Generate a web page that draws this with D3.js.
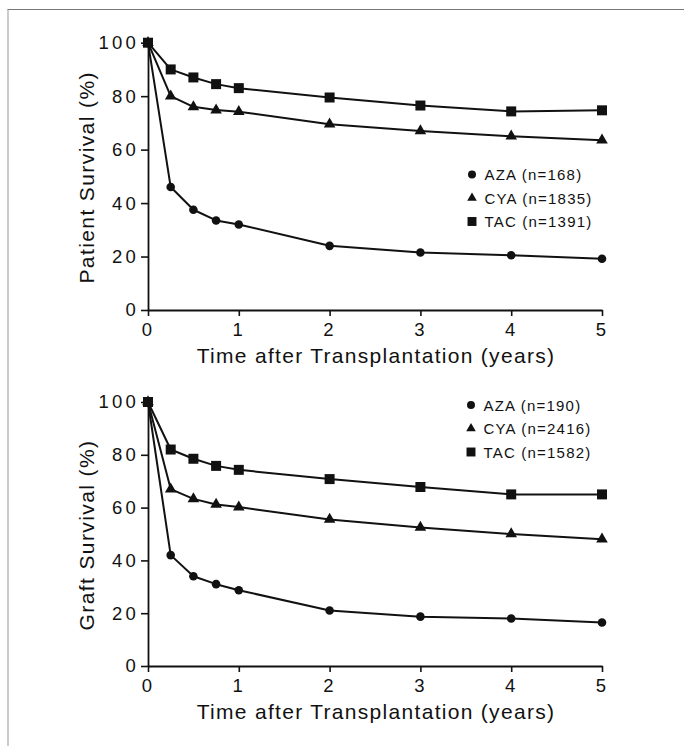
<!DOCTYPE html>
<html>
<head>
<meta charset="utf-8">
<script src="https://cdn.jsdelivr.net/npm/d3@7"></script>
<style>
  html, body { margin: 0; padding: 0; background: #fff; }
  svg { display: block; }
  text { font-family: "Liberation Sans", Arial, Helvetica, sans-serif; fill: #111; }
</style>
</head>
<body>
<svg id="chart" width="684" height="746"></svg>
<script>
// ---- Data ----
const times = [0, 0.25, 0.5, 0.75, 1, 2, 3, 4, 5];
const xTicks = [0, 1, 2, 3, 4, 5];
const yTicks = [0, 20, 40, 60, 80, 100];

const patientAZA = [100, 46, 37.5, 33.5, 32, 24, 21.5, 20.5, 19.2];
const patientCYA = [100, 80, 76, 74.8, 74.2, 69.5, 67, 65, 63.5];
const patientTAC = [100, 90, 87, 84.5, 83, 79.5, 76.5, 74.3, 74.7];

const graftAZA = [100, 42, 34, 31, 28.7, 21, 18.7, 18, 16.5];
const graftCYA = [100, 67, 63.3, 61.2, 60.2, 55.5, 52.5, 50, 48];
const graftTAC = [100, 82, 78.5, 75.8, 74.3, 70.8, 67.8, 65, 65];

const seriesNames = ["AZA", "CYA", "TAC"];
const patientLegend = ["AZA (n=168)", "CYA (n=1835)", "TAC (n=1391)"];
const graftLegend = ["AZA (n=190)", "CYA (n=2416)", "TAC (n=1582)"];
const xTitle = "Time after Transplantation (years)";

// ---- Drawing ----
const svg = d3.select("#chart");

// partial frame (top and left)
svg.append("line").attr("x1", 7.5).attr("x2", 684).attr("y1", 9.5).attr("y2", 9.5)
  .attr("stroke", "#777").attr("stroke-width", 1.2);
svg.append("line").attr("x1", 8).attr("x2", 8).attr("y1", 9.5).attr("y2", 746)
  .attr("stroke", "#999").attr("stroke-width", 1);

const symbolFor = {
  AZA: { type: d3.symbolCircle, size: 58, legendSize: 50 },
  CYA: { type: d3.symbolTriangle, size: 58, legendSize: 40 },
  TAC: { type: d3.symbolSquare, size: 100, legendSize: 80 }
};

const tickLS = 3.2;

function panel(cfg) {
  const x = d3.scaleLinear().domain([0, 5]).range([cfg.left, cfg.right]);
  const y = d3.scaleLinear().domain([0, 100]).range([cfg.bottom, cfg.top]);
  const g = svg.append("g");

  // axes
  const yAxis = g.append("g").attr("transform", `translate(${cfg.left},0)`)
    .call(d3.axisLeft(y).tickValues(yTicks).tickFormat(d3.format("d"))
      .tickSize(7).tickPadding(2).tickSizeOuter(0));
  const xAxis = g.append("g").attr("transform", `translate(0,${cfg.bottom})`)
    .call(d3.axisBottom(x).tickValues(xTicks).tickFormat(d3.format("d"))
      .tickSize(6).tickPadding(6.5).tickSizeOuter(0));
  [xAxis, yAxis].forEach(a => {
    a.select(".domain").attr("stroke", "#111").attr("stroke-width", 1.8);
    a.selectAll(".tick line").attr("stroke", "#111").attr("stroke-width", 1.6);
    a.selectAll(".tick text").attr("font-size", 18.5).attr("letter-spacing", tickLS)
      .attr("font-family", '"Liberation Sans", Arial, sans-serif').attr("fill", "#111");
  });

  // lines and markers
  const line = d3.line().x((d, i) => x(times[i])).y(d => y(d));
  cfg.series.forEach((vals, si) => {
    g.append("path").datum(vals).attr("d", line)
      .attr("fill", "none").attr("stroke", "#111").attr("stroke-width", 2)
      .attr("stroke-linejoin", "round");
    const s = symbolFor[seriesNames[si]];
    g.selectAll(null).data(vals).enter().append("path")
      .attr("d", d3.symbol().type(s.type).size(s.size))
      .attr("transform", (d, i) => `translate(${x(times[i])},${y(d)})`)
      .attr("fill", "#111");
  });

  // legend
  cfg.legend.forEach((label, i) => {
    const s = symbolFor[seriesNames[i]];
    const ly = cfg.legendY + i * 23.5;
    g.append("path").attr("d", d3.symbol().type(s.type).size(s.legendSize))
      .attr("transform", `translate(${cfg.legendX},${ly})`).attr("fill", "#111");
    g.append("text").attr("x", cfg.legendX + 12.5).attr("y", ly + 5.5)
      .attr("font-size", 15).attr("letter-spacing", 1.2).text(label);
  });

  // axis titles
  g.append("text").attr("x", (cfg.left + cfg.right) / 2 + 1).attr("y", cfg.bottom + 53)
    .attr("text-anchor", "middle").attr("font-size", 21).attr("letter-spacing", 1.3)
    .text(xTitle);
  g.append("text")
    .attr("transform", `translate(94,${(cfg.top + cfg.bottom) / 2 + 1}) rotate(-90)`)
    .attr("text-anchor", "middle").attr("font-size", 21).attr("letter-spacing", 1.4)
    .text(cfg.yTitle);
}

panel({
  left: 148, right: 602, top: 42.7, bottom: 310,
  series: [patientAZA, patientCYA, patientTAC],
  legend: patientLegend, legendX: 472, legendY: 174.5,
  yTitle: "Patient Survival (%)"
});
panel({
  left: 148, right: 602, top: 402, bottom: 666,
  series: [graftAZA, graftCYA, graftTAC],
  legend: graftLegend, legendX: 471, legendY: 405,
  yTitle: "Graft Survival (%)"
});
</script>
</body>
</html>
